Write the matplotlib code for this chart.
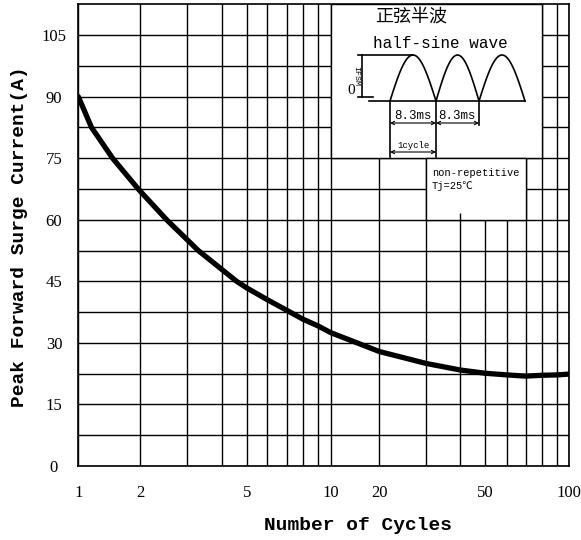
import numpy as np
import matplotlib
matplotlib.use("Agg")
import matplotlib.pyplot as plt
from matplotlib.patches import Rectangle
from matplotlib.ticker import NullLocator

plt.rcParams['font.family'] = ['Liberation Serif', 'Noto Sans CJK SC', 'DejaVu Sans']
MONO = ['Liberation Mono', 'Noto Sans CJK SC', 'DejaVu Sans']

# curve
cycles = [1, 1.16, 1.47, 1.96, 2.52, 3.3, 4.57, 5, 6, 7.2, 8, 9, 10,
          20, 30, 40, 50, 60, 70, 80, 90, 100]
current = [90, 82.5, 75, 67.5, 60, 52.5, 45, 43.4, 40.6, 37.5, 35.8, 34.1, 32.5,
           27.9, 25.0, 23.4, 22.6, 22.2, 21.9, 22.1, 22.2, 22.4]

labeled_x = [1, 2, 5, 10, 20, 50, 100]
y_major = [0, 15, 30, 45, 60, 75, 90, 105]

# gridline cycles and where the (hand drawn, not quite log) grid puts them
grid_cycles = [1, 2, 3, 4, 5, 6, 7, 8, 9, 10, 20, 30, 40, 50, 60, 70, 80, 90, 100]
grid_frac = [0, 0.1257, 0.2208, 0.292, 0.343, 0.3837, 0.4244, 0.457, 0.4888, 0.514,
             0.613, 0.708, 0.7774, 0.8283, 0.8725, 0.9112, 0.9438, 0.9756, 1.0]

lg = np.log10(grid_cycles)
fr = np.array(grid_frac) * 2


def fwd(x):
    v = np.log10(np.clip(np.asarray(x, float), 1e-6, None))
    out = np.interp(v, lg, fr)
    out = np.where(v > 2, 2 + (v - 2), out)
    return np.where(v < 0, v, out)


def inv(y):
    y = np.asarray(y, float)
    out = np.interp(y, fr, lg)
    out = np.where(y > 2, 2 + (y - 2), out)
    out = np.where(y < 0, y, out)
    return 10 ** out


fig = plt.figure(figsize=(5.81, 5.40), dpi=100)
ax = fig.add_axes([78.3 / 581, 74 / 540, 491 / 581, 461.7 / 540])
ax.set_xscale('function', functions=(fwd, inv))
ax.set_xlim(1, 100)
ax.set_ylim(0, 112.5)

ax.set_xticks(grid_cycles)
ax.set_xticklabels([str(c) if c in labeled_x else '' for c in grid_cycles])
ax.xaxis.set_minor_locator(NullLocator())
ax.set_yticks(y_major)
ax.set_yticks(np.arange(7.5, 112.5, 15), minor=True)
ax.tick_params(axis='x', length=0, pad=13.5, labelsize=12)
ax.tick_params(axis='y', which='both', length=0, pad=17.5, labelsize=12)
for lab in ax.get_yticklabels():
    lab.set_horizontalalignment('center')

ax.set_axisbelow(True)
ax.grid(True, axis='x', color='black', lw=1.0)
ax.grid(True, axis='y', which='both', color='black', lw=1.0)
for s in ax.spines.values():
    s.set_linewidth(1.2)

# blank boxes holding the waveform sketch and the test conditions
ax.add_patch(Rectangle((10, 75), 70, 37.5, fc='white', ec='black', lw=1.0, zorder=1.5))
ax.add_patch(Rectangle((30, 60), 40, 15, fc='white', ec='black', lw=1.0, zorder=1.5))
ax.vlines(40, 60, 61.7, color='black', lw=1.0, zorder=1.6)

ax.plot(cycles, current, color='black', lw=3.8, solid_capstyle='round',
        solid_joinstyle='round', zorder=3)

# overlay in pixel units for labels and the sketch
ov = fig.add_axes([0, 0, 1, 1], zorder=5)
ov.set_xlim(0, 581)
ov.set_ylim(540, 0)
ov.axis('off')
ov.patch.set_alpha(0)

ov.text(358, 526, 'Number of Cycles', family=MONO, fontweight='bold', fontsize=14,
        ha='center', va='center')
ov.text(20, 237, 'Peak Forward Surge Current(A)', family=MONO, fontweight='bold',
        fontsize=14, rotation=90, ha='center', va='center')

ov.text(411, 18, '正弦半波', family=['Noto Sans CJK SC'], fontsize=13, ha='center', va='center')
ov.text(373, 43, 'half-sine wave', family=MONO, fontsize=11.5, ha='left', va='center')

k = dict(color='black', lw=1.2)
ov.plot([358, 413], [55, 55], **k)
ov.plot([362, 362], [55, 97], **k)
ov.plot([358, 373], [97, 97], **k)
ov.plot([369, 525], [101, 101], **k)
t = np.linspace(0, 1, 50)
for x0, x1 in [(390, 436), (436, 479), (479, 525)]:
    ov.plot(x0 + (x1 - x0) * t, 101 - 46 * np.sin(np.pi * t), **k)
ov.plot([390, 390], [101, 157], **k)
ov.plot([436, 436], [101, 157], **k)
ov.plot([479, 479], [101, 125], **k)
ov.text(356, 76, 'IFSM', family=MONO, fontsize=6, rotation=-90, ha='center', va='center')
ov.text(351, 91, '0', fontsize=11, ha='center', va='center')

ap = dict(arrowstyle='<->', lw=0.8, color='black', shrinkA=0, shrinkB=0, mutation_scale=6)
ov.annotate('', xy=(390, 123), xytext=(436, 123), arrowprops=ap)
ov.annotate('', xy=(436, 123), xytext=(479, 123), arrowprops=ap)
ov.annotate('', xy=(390, 152), xytext=(436, 152), arrowprops=ap)
ov.text(413, 122, '8.3ms', family=MONO, fontsize=9, ha='center', va='bottom')
ov.text(457, 122, '8.3ms', family=MONO, fontsize=9, ha='center', va='bottom')
ov.text(413, 150, '1cycle', family=MONO, fontsize=6.5, ha='center', va='bottom')

ov.text(432, 173, 'non-repetitive', family=MONO, fontsize=7.5, ha='left', va='center')
ov.text(432, 186, 'Tj=25℃', family=MONO, fontsize=7.5, ha='left', va='center')

fig.savefig('out.png', dpi=100)
